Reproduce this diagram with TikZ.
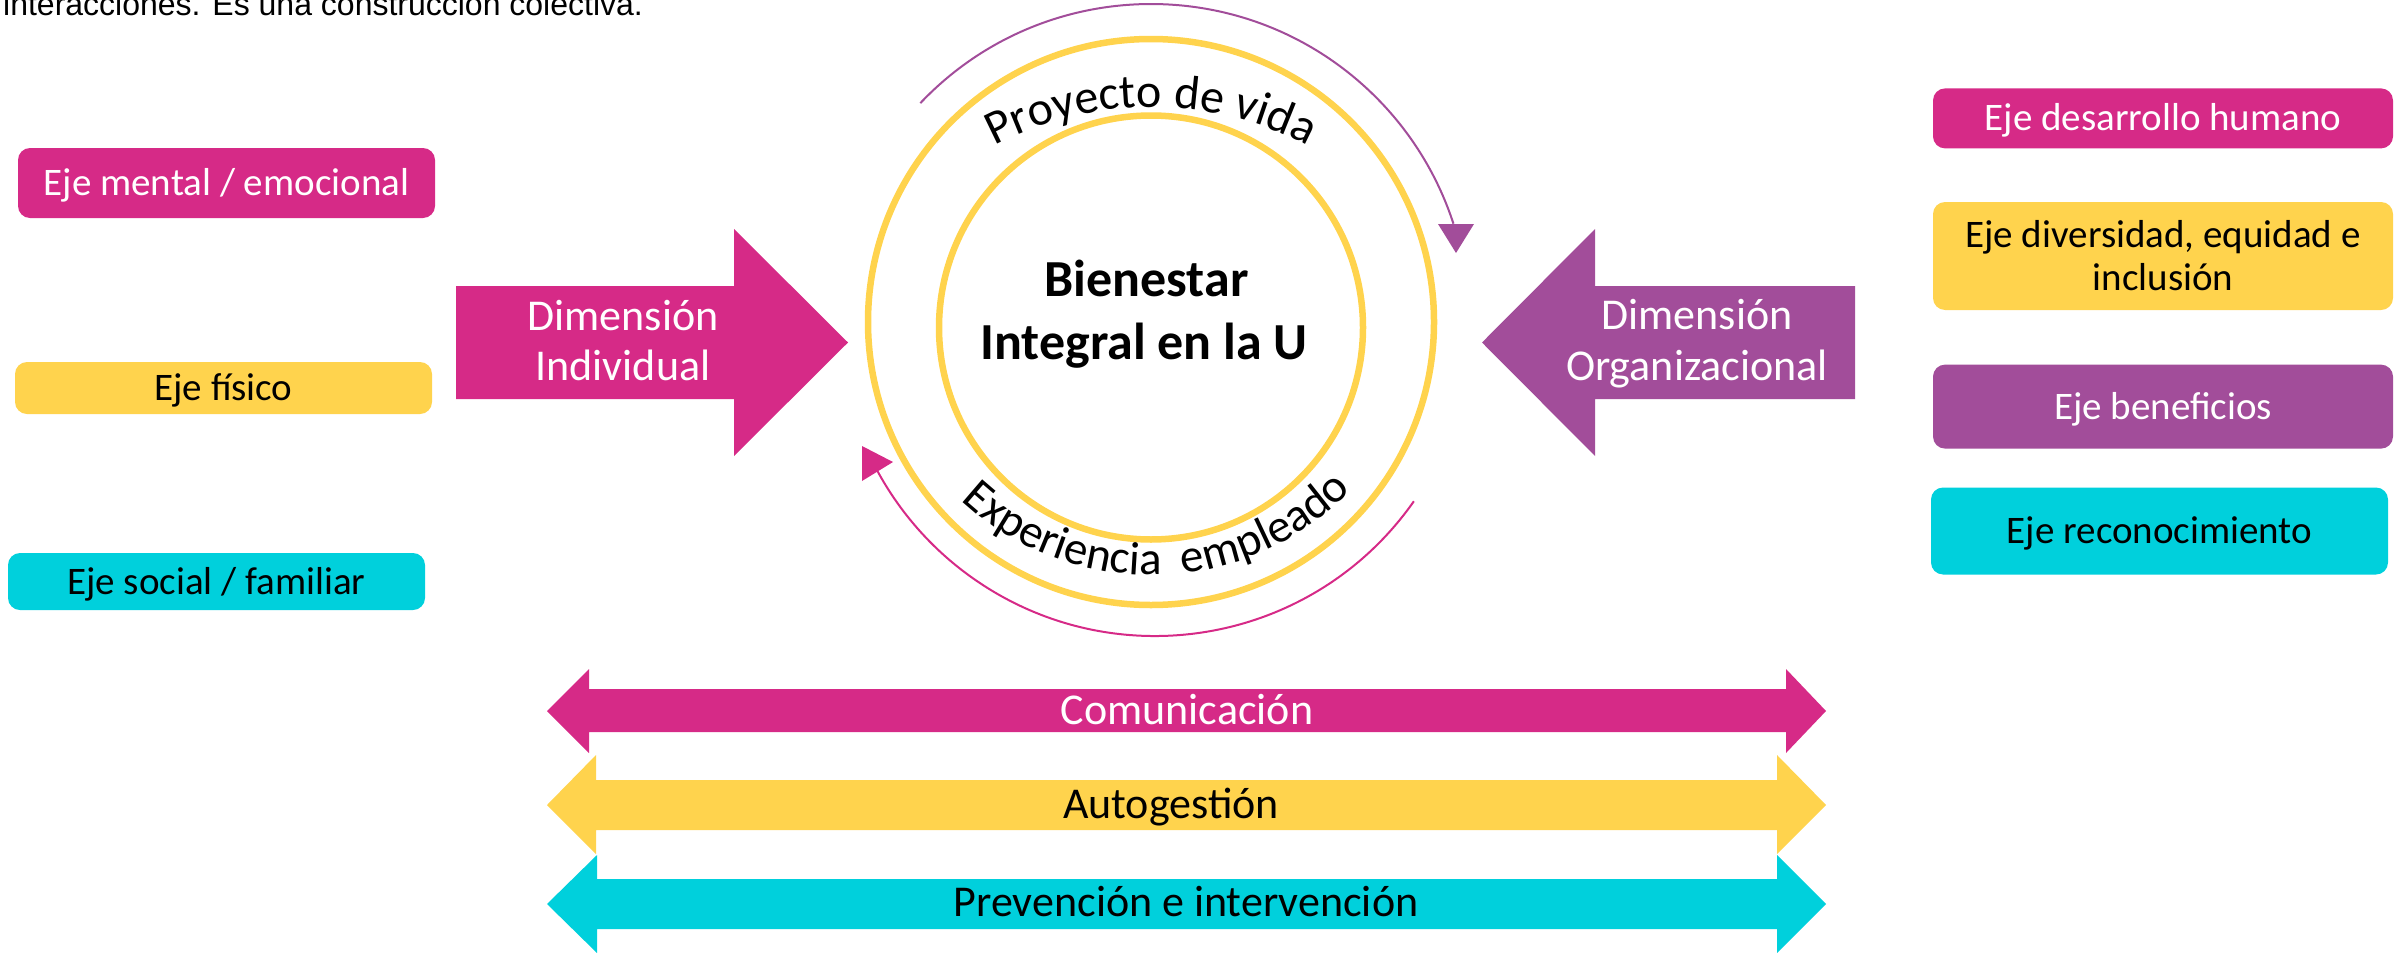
\documentclass[tikz,border=0pt]{standalone}
\usepackage{fontspec}
\setmainfont{Carlito}
\newfontfamily\arialfam{Liberation Sans}
\usetikzlibrary{decorations.text}
\definecolor{cMag}{RGB}{214,42,135}
\definecolor{cYel}{RGB}{255,211,77}
\definecolor{cPur}{RGB}{162,77,154}
\definecolor{cCya}{RGB}{0,208,220}
\newcommand\bxfont{\fontsize{39}{43}\selectfont}
\newcommand\dmfont{\fontsize{44}{50}\selectfont}
\newcommand\brfont{\fontsize{44}{50}\selectfont}
\newcommand\cnfont{\bfseries\fontsize{52}{63}\selectfont}
\newcommand\arcfnt{\fontsize{48}{48}\selectfont}
\newcommand\arcfntb{\fontsize{47}{47}\selectfont}
\newcommand\tpfont{\arialfam\fontsize{32}{36}\selectfont}
\tikzset{
  ebox/.style={rounded corners=12pt, inner sep=0pt, font=\bxfont, align=center},
  eone/.style={ebox, text height=25pt, text depth=0pt},
  basetxt/.style={anchor=base, inner sep=0pt},
  ring/.style={draw=cYel, line width=6.5pt},
  cyc/.style={line width=2pt},
}
\begin{document}
\begin{tikzpicture}[x=1pt,y=1pt]
\useasboundingbox (0,0) rectangle (2407,-953);
\clip (0,0) rectangle (2407,-953);

% top clipped text
\node[anchor=base west, inner sep=0pt, font=\tpfont] (toptext) at (3,-15.5) {interacciones. Es una construcción colectiva.};

% left boxes
\node[eone, fill=cMag, text=white, minimum width=417pt, minimum height=70pt] (lb1) at (226.5,-183) {Eje mental / emocional};
\node[eone, fill=cYel, text=black, minimum width=417pt, minimum height=52pt] (lb2) at (223.5,-388) {Eje físico};
\node[eone, fill=cCya, text=black, minimum width=417pt, minimum height=57pt] (lb3) at (216.5,-581.5) {Eje social / familiar};

% right boxes
\node[eone, fill=cMag, text=white, minimum width=460pt, minimum height=60pt] (rb1) at (2163,-118.4) {Eje desarrollo humano};
\node[ebox, fill=cYel, text=black, minimum width=460pt, minimum height=108pt] (rb2) at (2163,-256) {Eje diversidad, equidad e\\inclusión};
\node[eone, fill=cPur, text=white, minimum width=460pt, minimum height=84pt] (rb3) at (2163,-406.6) {Eje beneficios};
\node[eone, fill=cCya, text=black, minimum width=457pt, minimum height=87pt] (rb4) at (2159.5,-531) {Eje reconocimiento};

% block arrows
\fill[cMag] (456,-286) -- (734,-286) -- (734,-229) -- (848,-342.5) -- (734,-456) -- (734,-399) -- (456,-399) -- cycle;
\node[basetxt, font=\dmfont, text=white] (di1) at (623,-330) {Dimensión};
\node[basetxt, font=\dmfont, text=white] (di2) at (623,-380) {Individual};

\fill[cPur] (1855,-286) -- (1595,-286) -- (1595,-229) -- (1482,-342.5) -- (1595,-456) -- (1595,-399) -- (1855,-399) -- cycle;
\node[basetxt, font=\dmfont, text=white] (do1) at (1697,-329) {Dimensión};
\node[basetxt, font=\dmfont, text=white] (do2) at (1697,-380) {Organizacional};

% rings
\draw[ring] (1151,-322) circle[radius=283];
\draw[ring] (1151,-327.5) circle[radius=212];
\node[basetxt, font=\cnfont] (c1) at (1146.5,-296) {Bienestar};
\node[basetxt, font=\cnfont] (c2) at (1144,-359) {Integral en la U};

% arc texts
\path[decorate, decoration={text along path, text align=center, text={|\arcfnt|Proyecto de vida}}]
  (1151,-440) ++(150:333) arc[start angle=150, end angle=30, radius=333];
\path[decorate, decoration={text along path, text align=center, text={|\arcfntb|Experiencia {\ }empleado}}]
  (1151,-296) ++(221.5:279) arc[start angle=221.5, end angle=321.5, radius=279];

% cycle arrows
\draw[cyc, cPur] (1151,-322) ++(136.5:318) arc[start angle=136.5, end angle=18, radius=318];
\fill[cPur] (1438,-224) -- (1474,-224) -- (1456,-253) -- cycle;
\draw[cyc, cMag] (1155,-320) ++(-35:316) arc[start angle=-35, end angle=-151.6, radius=316];
\fill[cMag] (862,-446) -- (862,-481) -- (893,-462) -- cycle;

% bottom double arrows
\fill[cMag] (547,-711) -- (589,-669) -- (589,-689) -- (1786,-689) -- (1786,-669) -- (1826,-711) -- (1786,-753) -- (1786,-732) -- (589,-732) -- (589,-753) -- cycle;
\node[basetxt, font=\brfont, text=white] (bt1) at (1187,-724) {Comunicación};
\fill[cYel] (547,-805) -- (596,-755) -- (596,-780) -- (1777,-780) -- (1777,-755) -- (1826,-805) -- (1777,-854) -- (1777,-830) -- (596,-830) -- (596,-854) -- cycle;
\node[basetxt, font=\brfont, text=black] (bt2) at (1171,-818) {Autogestión};
\fill[cCya] (547,-904) -- (597,-855) -- (597,-879) -- (1777,-879) -- (1777,-855) -- (1826,-904) -- (1777,-953) -- (1777,-929) -- (597,-929) -- (597,-953) -- cycle;
\node[basetxt, font=\brfont, text=black] (bt3) at (1186,-916) {Prevención e intervención};
\end{tikzpicture}
\end{document}
